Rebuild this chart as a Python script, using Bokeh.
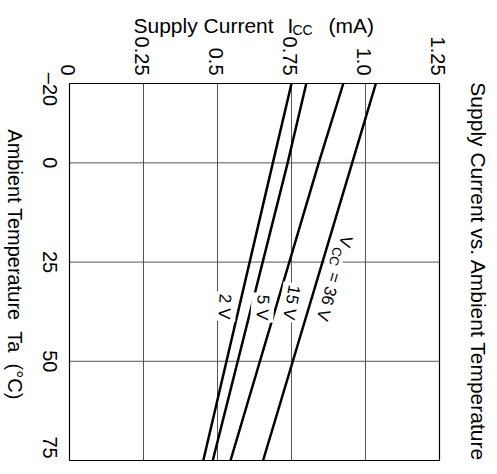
import math
from bokeh.plotting import figure
from bokeh.models import Label, Range1d, ColumnDataSource
from bokeh.core.properties import value
from bokeh.embed import file_html
from bokeh.resources import INLINE

# ---- data ----
temperature = [-20, 0, 75]                 # Ta (°C)
icc_2v = [0.750, 0.687, 0.452]             # Supply current (mA)
icc_5v = [0.800, 0.737, 0.484]
icc_15v = [0.925, 0.842, 0.544]
icc_36v = [1.035, 0.955, 0.654]
series = [icc_2v, icc_5v, icc_15v, icc_36v]
series_names = ["2 V", "5 V", "15 V", "36 V"]

current_ticks = [0, 0.25, 0.5, 0.75, 1.0, 1.25]
current_tick_labels = ["0", "0.25", "0.5", "0.75", "1.0", "1.25"]
temp_ticks = [-20, 0, 25, 50, 75]
temp_tick_labels = ["–20", "0", "25", "50", "75"]

FONT = "Liberation Sans"
NB = "\u00a0"
W, H = 497, 474
# plot box in canvas pixels
BOX_L, BOX_R, BOX_T, BOX_B = 69, 439, 83, 460

X0, X1 = current_ticks[0], current_ticks[-1]
T0, T1 = temp_ticks[0], temp_ticks[-1]
kx = (BOX_R - BOX_L) / (X1 - X0)
ky = (BOX_B - BOX_T) / (T1 - T0)

x_range = Range1d(X0 - BOX_L / kx, X1 + (W - BOX_R) / kx)
y_range = Range1d(T1 + (H - BOX_B) / ky, T0 - BOX_T / ky)   # inverted: -20 at top

p = figure(width=W, height=H, output_backend="svg", toolbar_location=None,
           x_range=x_range, y_range=y_range,
           x_axis_type=None, y_axis_type=None,
           min_border=0, min_border_left=0, min_border_right=0,
           min_border_top=0, min_border_bottom=0)
p.background_fill_color = "white"
p.border_fill_color = "white"
p.outline_line_color = None


def px(sx, sy):
    """canvas pixel -> data coordinate (for text placement)"""
    return X0 + (sx - BOX_L) / kx, T0 + (sy - BOX_T) / ky


# grid lines (interior ticks)
p.segment(x0=current_ticks[1:-1], x1=current_ticks[1:-1],
          y0=[T0] * (len(current_ticks) - 2), y1=[T1] * (len(current_ticks) - 2),
          line_color="#555555", line_width=1)
p.segment(x0=[X0] * (len(temp_ticks) - 2), x1=[X1] * (len(temp_ticks) - 2),
          y0=temp_ticks[1:-1], y1=temp_ticks[1:-1],
          line_color="#555555", line_width=1)

# curves
for s in series:
    p.line(x=s, y=temperature, line_color="black", line_width=2.5)

# plot box
p.quad(left=[X0], right=[X1], top=[T0], bottom=[T1],
       fill_color=None, line_color="black", line_width=1.2)

# tick labels on the current axis (top), rotated clockwise
top_src = ColumnDataSource(dict(x=current_ticks, y=[T0] * len(current_ticks),
                                text=current_tick_labels))
p.text(x="x", y="y", text="text", source=top_src, angle=-math.pi / 2,
       x_offset=-2, y_offset=-8, text_align="right", text_baseline="middle",
       text_font=value(FONT), text_font_size="20px", text_color="black")

# tick labels on the temperature axis (left)
left_src = ColumnDataSource(dict(x=[X0] * len(temp_ticks), y=temp_ticks,
                                 text=temp_tick_labels,
                                 yoff=[6, 0, 0, 0, -13]))
p.text(x="x", y="y", text="text", source=left_src, angle=-math.pi / 2,
       x_offset=-20, y_offset="yoff", text_align="center", text_baseline="middle",
       text_font=value(FONT), text_font_size="20px", text_color="black")


def label(text, sx, sy, size, angle=0.0, align="left", baseline="alphabetic", bg=None, pad=0):
    x, y = px(sx, sy)
    return Label(x=x, y=y, x_units="data", y_units="data", text=text,
                 text_font=FONT, text_font_size=size, text_color="black",
                 angle=angle, text_align=align, text_baseline=baseline,
                 background_fill_color=bg, padding=pad)


# top axis title with subscript
p.add_layout(label("Supply Current", 133, 25, "21px"))
p.add_layout(label("I", 287, 25, "21px"))
p.add_layout(label("CC", 292, 29, "14px"))
p.add_layout(label("(mA)", 328, 25, "21px"))

# left axis title
p.add_layout(label("Ambient Temperature" + NB * 2 + "Ta" + NB * 2 + "(°C)", 14, 264, "20px",
                   angle=-math.pi / 2, align="center", baseline="middle"))
# right title
p.add_layout(label("Supply Current vs. Ambient Temperature", 478, 271.5, "21px",
                   angle=-math.pi / 2, align="center", baseline="middle"))

# curve labels
p.add_layout(label(series_names[0], 224, 306, "17px", angle=math.radians(-93),
                   align="center", baseline="middle", bg="white", pad=2))
p.add_layout(label(series_names[1], 262, 307, "17px", angle=math.radians(-93),
                   align="center", baseline="middle", bg="white", pad=2))
p.add_layout(label(series_names[2], 291, 302, "17px", angle=math.radians(-100),
                   align="center", baseline="middle", bg="white", pad=2))

ang36 = math.radians(-106)
p.add_layout(label("V", 345, 241, "17px", angle=ang36, align="center",
                   baseline="middle", bg="white", pad=1))
p.add_layout(label("CC", 335, 256, "13px", angle=ang36, align="center",
                   baseline="middle", bg="white", pad=1))
p.add_layout(label("= " + series_names[3], 328, 296, "17px", angle=ang36, align="center",
                   baseline="middle", bg="white", pad=1))

open("out.html", "w").write(file_html(p, INLINE))
